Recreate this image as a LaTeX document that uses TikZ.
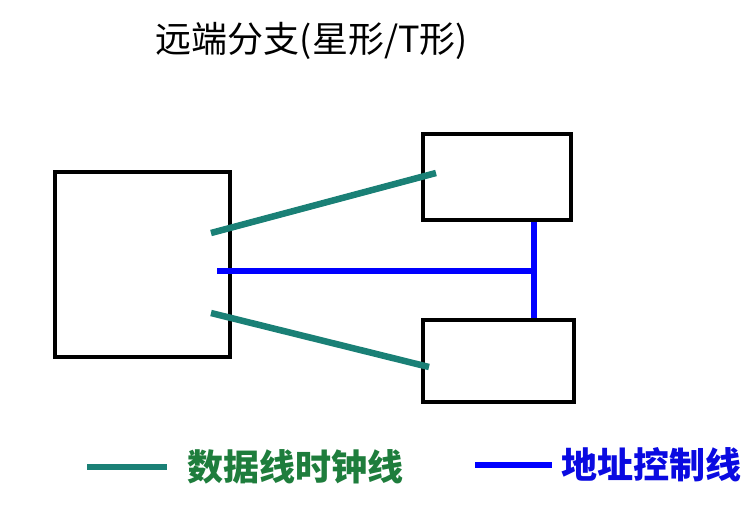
\documentclass[tikz,border=0pt]{standalone}
\usepackage{fontspec}
\newfontfamily\cjk{Noto Sans CJK SC}
\usetikzlibrary{positioning,calc}
\definecolor{dataline}{RGB}{26,128,118}
\definecolor{datatext}{RGB}{30,125,60}
\definecolor{addrline}{RGB}{0,0,255}
\definecolor{addrtext}{RGB}{10,10,225}

\begin{document}
\begin{tikzpicture}[x=1pt,y=-1pt,font=\cjk]
\tikzstyle{chip}=[draw=black,line width=3.5pt,inner sep=0pt]
\tikzstyle{dataw}=[-,draw=dataline,line width=6.5pt]
\tikzstyle{addrw}=[-,draw=addrline,line width=5.5pt]
\tikzstyle{legtext}=[inner sep=0pt,font=\cjk\bfseries\fontsize{36}{40}\selectfont]
\useasboundingbox (0,0) rectangle (755,509);

\node (titulo) at (312,41) {\fontsize{36}{42}\selectfont 远端分支(星形/T形)};

\node[chip,minimum width=175pt,minimum height=185pt] (src) at (142.5,264.5) {};
\node[chip,minimum width=148pt,minimum height=86pt] (dstA) at (497,177) {};
\node[chip,minimum width=151pt,minimum height=82pt] (dstB) at (498.5,361) {};

\coordinate (srcA) at (211,233);
\coordinate (srcB) at (211,313);
\coordinate (srcC) at (217,271);
\coordinate (endA) at (436,173);
\coordinate (endB) at (429,367);
\coordinate (bus) at (534,271);

\path
	(srcA) edge [dataw] (endA)
	(srcB) edge [dataw] (endB)
	(srcC) edge [addrw] (bus)
	(dstA.south -| bus) edge [addrw] (dstB.north -| bus);

% leyenda
\coordinate (legA0) at (87,467);
\coordinate (legA1) at (167,467);
\coordinate (legB0) at (475,465);
\coordinate (legB1) at (552,465);
\draw[dataw] (legA0) -- (legA1);
\draw[addrw,line width=6.5pt] (legB0) -- (legB1);
\node[legtext,text=datatext,right=20pt of legA1] (legAtext) {数据线时钟线};
\node[legtext,text=addrtext,right=9pt of legB1] (legBtext) {地址控制线};
\end{tikzpicture}
\end{document}
